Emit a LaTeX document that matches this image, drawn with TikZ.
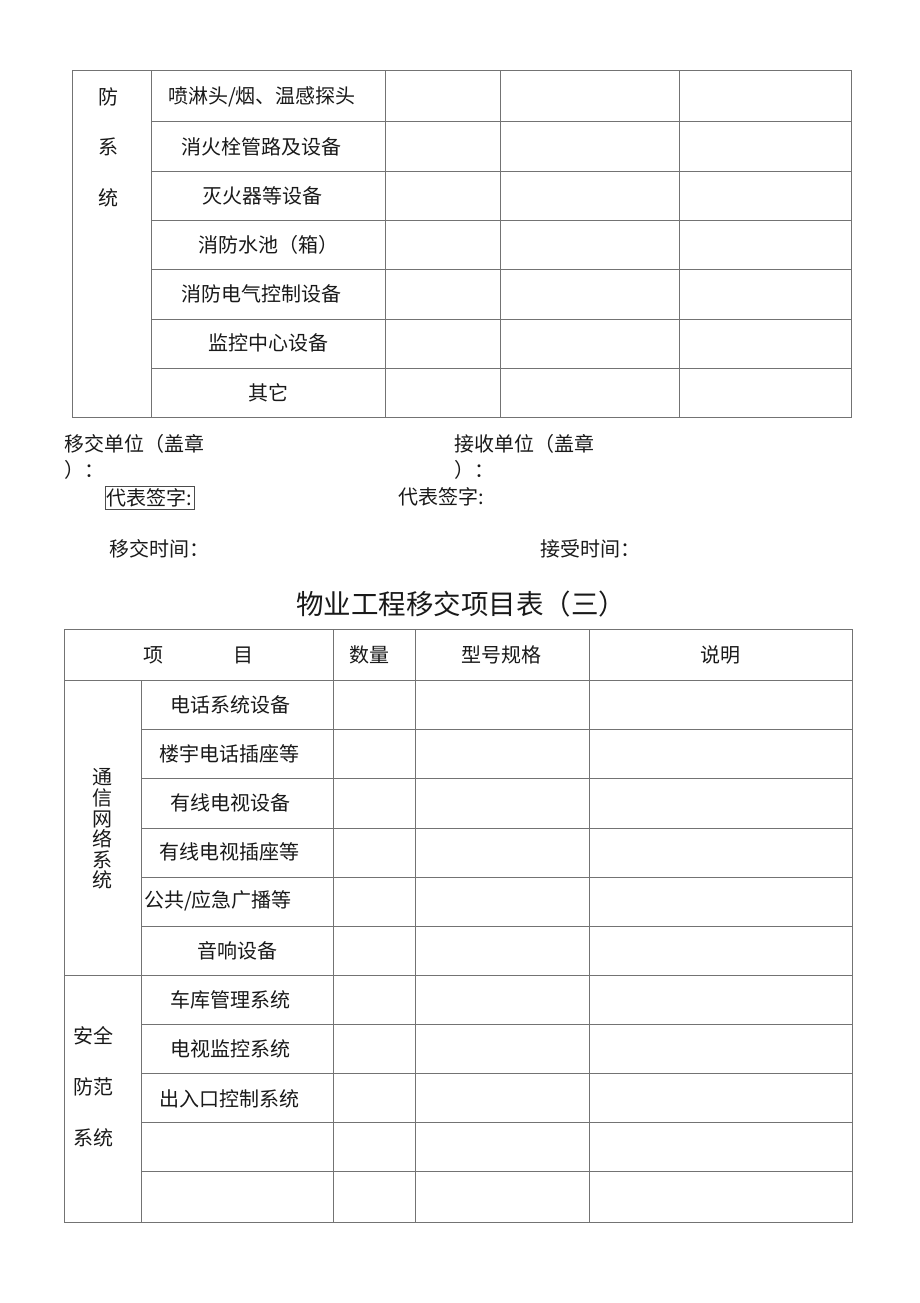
\documentclass[tikz,border=0pt]{standalone}
\usepackage{fontspec}
\setmainfont{Noto Sans CJK SC}
\begin{document}
\begin{tikzpicture}[x=1pt,y=-1pt,
  every node/.style={inner sep=0pt, font=\fontsize{20}{20}\selectfont, text=black!90},
  grid/.style={draw=black!55, line width=1pt},
  lbl/.style={anchor=center},
  lft/.style={anchor=west}]
\useasboundingbox (0,0) rectangle (920,1303);
% ---------- table 1 ----------
\draw[grid] (72,71) rectangle (851,417);
\foreach \x in {151,385,500,679} \draw[grid] (\x,71) -- (\x,417);
\foreach \y in {122,171,220,269,319,368} \draw[grid] (151,\y) -- (851,\y);
\node[lbl, align=center, font=\fontsize{20}{50.5}\selectfont] (t1side) at (108,147) {防\\系\\统};
\node[lbl] (a1) at (262,97) {喷淋头/烟、温感探头};
\node[lbl] (a2) at (261,147) {消火栓管路及设备};
\node[lbl] (a3) at (262,196) {灭火器等设备};
\node[lbl] (a4) at (268,245) {消防水池（箱）};
\node[lbl] (a5) at (261,294) {消防电气控制设备};
\node[lbl] (a6) at (268,343) {监控中心设备};
\node[lbl] (a7) at (268,393) {其它};
% ---------- signatures ----------
\node[lft] (s1) at (64,444) {移交单位（盖章};
\node[lft] (s2) at (64,470) {）：};
\node[lft] (s3) at (454,444) {接收单位（盖章};
\node[lft] (s4) at (454,470) {）：};
\node[lft, draw=black!70, line width=0.6pt, inner xsep=1.5pt, inner ysep=2pt] (s5) at (105,498) {代表签字:};
\node[lft] (s6) at (398,497) {代表签字:};
\node[lft] (s7) at (109,549) {移交时间：};
\node[lft] (s8) at (540,549) {接受时间：};
% ---------- title ----------
\node[lbl, font=\fontsize{27.5}{27.5}\selectfont] (title) at (461,604) {物业工程移交项目表（三）};
% ---------- table 2 ----------
\draw[grid] (64,629) rectangle (852,1222);
\draw[grid] (141,680) -- (141,1222);
\foreach \x in {333,415,589} \draw[grid] (\x,629) -- (\x,1222);
\draw[grid] (64,680) -- (852,680);
\draw[grid] (64,975) -- (852,975);
\foreach \y in {729,778,828,877,926,1024,1073,1122,1171} \draw[grid] (141,\y) -- (852,\y);
\node[lbl] (h1) at (153,655) {项};
\node[lbl] (h2) at (243,655) {目};
\node[lbl] (h3) at (369,655) {数量};
\node[lbl] (h4) at (501,655) {型号规格};
\node[lbl] (h5) at (720,655) {说明};
\node[lbl, align=center, font=\fontsize{20}{20.6}\selectfont] (g1) at (102,829) {通\\信\\网\\络\\系\\统};
\node[lbl, align=center, font=\fontsize{20}{51}\selectfont] (g2) at (93,1087) {安全\\防范\\系统};
\node[lbl] (b1) at (230,705) {电话系统设备};
\node[lbl] (b2) at (229,754) {楼宇电话插座等};
\node[lbl] (b3) at (230,803) {有线电视设备};
\node[lbl] (b4) at (229,852) {有线电视插座等};
\node[lbl] (b5) at (218,901) {公共/应急广播等};
\node[lbl] (b6) at (237,951) {音响设备};
\node[lbl] (b7) at (230,1000) {车库管理系统};
\node[lbl] (b8) at (230,1049) {电视监控系统};
\node[lbl] (b9) at (229,1099) {出入口控制系统};
\end{tikzpicture}
\end{document}
